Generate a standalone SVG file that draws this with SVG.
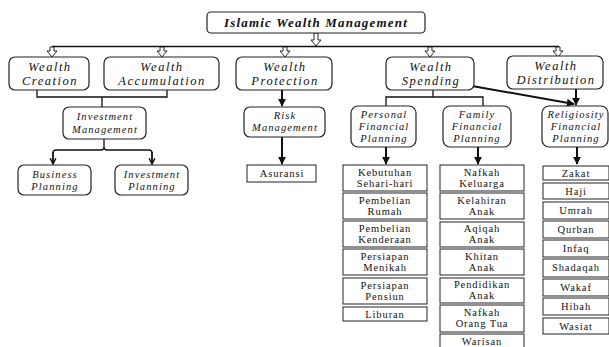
<svg xmlns="http://www.w3.org/2000/svg" width="609" height="347" viewBox="0 0 609 347">
<defs>
<style>
text{font-family:'Liberation Serif','Times New Roman',serif;fill:#111;text-anchor:middle}
.rb{fill:#fff;stroke:#222;stroke-width:1.2}
.lb{fill:#fff;stroke:#222;stroke-width:1}
.t1{font-style:italic;font-size:12.5px;letter-spacing:1.5px}
.t2{font-style:italic;font-size:10.5px;letter-spacing:1.1px}
.t3{font-size:10.5px;letter-spacing:0.9px}
.tt{font-style:italic;font-weight:bold;font-size:13px;letter-spacing:1.2px}
.ln{fill:none;stroke:#111;stroke-width:1.3}
.ar{fill:none;stroke:#111;stroke-width:2;marker-end:url(#ah)}
.cv{fill:none;stroke:#111;stroke-width:1.8;marker-end:url(#cv)}
.ha{fill:#fff;stroke:#111;stroke-width:0.9}
</style>
<marker id="ah" viewBox="0 0 10 10" refX="9" refY="5" markerWidth="4" markerHeight="4" orient="auto" markerUnits="strokeWidth">
<path d="M0,0 L10,5 L0,10 Z" fill="#111"/>
</marker>
<marker id="cv" viewBox="0 0 10 10" refX="9" refY="5" markerWidth="4" markerHeight="4" orient="auto" markerUnits="strokeWidth">
<path d="M1,1 L9,5 L1,9" fill="none" stroke="#111" stroke-width="2"/>
</marker>
</defs>
<rect width="609" height="347" fill="#fff"/>

<g id="connectors">
<path class="ha" d="M314,33 H318 V40 H321 L316,46 L311,40 H314 Z"/>
<line x1="52" y1="46.5" x2="559" y2="46.5" stroke="#111" stroke-width="1.6"/>
<path class="ha" d="M50,47 H54 V51 H57 L52,57 L47,51 H50 Z"/>
<path class="ha" d="M160,47 H164 V51 H167 L162,57 L157,51 H160 Z"/>
<path class="ha" d="M283,47 H287 V51 H290 L285,57 L280,51 H283 Z"/>
<path class="ha" d="M428,47 H432 V51 H435 L430,57 L425,51 H428 Z"/>
<path class="ha" d="M556,47 H560 V51 H563 L558,57 L553,51 H556 Z"/>
<path class="ln" d="M37,90 V97 H167 V90 M102,97 V107"/>
<path class="ln" d="M104,139 V147 Q104,150 101,150 H56 Q53,150 53,153 M104,147 Q104,150 107,150 H149 Q152,150 152,153" stroke-width="1.8"/>
<path class="cv" d="M53,152 V164"/>
<path class="cv" d="M152,152 V164"/>
<path class="ar" d="M282,90 V106"/>
<path class="ar" d="M282,137 V164"/>
<path class="ln" d="M433,90 V97 M386,106 V97 H483 V106"/>
<path class="ar" d="M472,86 L574,104" stroke-width="1.6"/>
<path class="ar" d="M576,89 V105"/>
<path class="ar" d="M386,147 V164"/>
<path class="ar" d="M478,147 V164"/>
<path class="ar" d="M577,147 V164"/>
</g>

<g id="n-top"><rect class="rb" x="207" y="12" width="218" height="21" rx="4"/><text class="tt" x="316" y="27">Islamic Wealth Management</text></g>

<g id="n-creation"><rect class="rb" x="9" y="57" width="80" height="33" rx="6"/><text class="t1" x="50" y="71">Wealth</text><text class="t1" x="50" y="85">Creation</text></g>
<g id="n-accumulation"><rect class="rb" x="104" y="57" width="115" height="33" rx="6"/><text class="t1" x="162" y="71">Wealth</text><text class="t1" x="162" y="85">Accumulation</text></g>
<g id="n-protection"><rect class="rb" x="236" y="57" width="96" height="33" rx="6"/><text class="t1" x="285" y="71">Wealth</text><text class="t1" x="285" y="85">Protection</text></g>
<g id="n-spending"><rect class="rb" x="386" y="57" width="88" height="33" rx="6"/><text class="t1" x="431" y="71">Wealth</text><text class="t1" x="431" y="85">Spending</text></g>
<g id="n-distribution"><rect class="rb" x="507" y="56" width="96" height="33" rx="6"/><text class="t1" x="556" y="70">Wealth</text><text class="t1" x="556" y="84">Distribution</text></g>

<g id="n-im"><rect class="rb" x="63" y="107" width="83" height="32" rx="6"/><text class="t2" x="105" y="120">Investment</text><text class="t2" x="105" y="133">Management</text></g>
<g id="n-bp"><rect class="rb" x="18" y="165" width="73" height="30" rx="6"/><text class="t2" x="55" y="178">Business</text><text class="t2" x="55" y="190">Planning</text></g>
<g id="n-ip"><rect class="rb" x="115" y="165" width="73" height="30" rx="6"/><text class="t2" x="152" y="178">Investment</text><text class="t2" x="152" y="190">Planning</text></g>

<g id="n-rm"><rect class="rb" x="244" y="107" width="81" height="30" rx="6"/><text class="t2" x="285" y="119">Risk</text><text class="t2" x="285" y="131">Management</text></g>
<g id="n-asuransi"><rect class="lb" x="247" y="165" width="69" height="17"/><text class="t3" x="282" y="177">Asuransi</text></g>

<g id="n-pfp"><rect class="rb" x="351" y="106" width="65" height="41" rx="7"/><text class="t2" x="384" y="118">Personal</text><text class="t2" x="384" y="130">Financial</text><text class="t2" x="384" y="142">Planning</text></g>
<g id="n-ffp"><rect class="rb" x="443" y="106" width="68" height="41" rx="7"/><text class="t2" x="477" y="118">Family</text><text class="t2" x="477" y="130">Financial</text><text class="t2" x="477" y="142">Planning</text></g>
<g id="n-rfp"><rect class="rb" x="542" y="106" width="66" height="41" rx="7"/><text class="t2" x="576" y="118">Religiosity</text><text class="t2" x="576" y="130">Financial</text><text class="t2" x="576" y="142">Planning</text></g>

<g id="n-p1"><rect class="lb" x="343" y="165" width="84" height="26"/><text class="t3" x="385" y="176">Kebutuhan</text><text class="t3" x="385" y="187">Sehari-hari</text></g>
<g id="n-p2"><rect class="lb" x="343" y="193" width="84" height="26"/><text class="t3" x="385" y="204">Pembelian</text><text class="t3" x="385" y="215">Rumah</text></g>
<g id="n-p3"><rect class="lb" x="343" y="221" width="84" height="26"/><text class="t3" x="385" y="232">Pembelian</text><text class="t3" x="385" y="243">Kenderaan</text></g>
<g id="n-p4"><rect class="lb" x="343" y="249" width="84" height="26"/><text class="t3" x="385" y="260">Persiapan</text><text class="t3" x="385" y="271">Menikah</text></g>
<g id="n-p5"><rect class="lb" x="343" y="278" width="84" height="26"/><text class="t3" x="385" y="289">Persiapan</text><text class="t3" x="385" y="300">Pensiun</text></g>
<g id="n-p6"><rect class="lb" x="343" y="307" width="84" height="14"/><text class="t3" x="385" y="318">Liburan</text></g>

<g id="n-f1"><rect class="lb" x="440" y="165" width="84" height="26"/><text class="t3" x="482" y="176">Nafkah</text><text class="t3" x="482" y="187">Keluarga</text></g>
<g id="n-f2"><rect class="lb" x="440" y="193" width="84" height="26"/><text class="t3" x="482" y="204">Kelahiran</text><text class="t3" x="482" y="215">Anak</text></g>
<g id="n-f3"><rect class="lb" x="440" y="222" width="84" height="25"/><text class="t3" x="482" y="232">Aqiqah</text><text class="t3" x="482" y="243">Anak</text></g>
<g id="n-f4"><rect class="lb" x="440" y="249" width="84" height="26"/><text class="t3" x="482" y="260">Khitan</text><text class="t3" x="482" y="271">Anak</text></g>
<g id="n-f5"><rect class="lb" x="440" y="278" width="84" height="25"/><text class="t3" x="482" y="288">Pendidikan</text><text class="t3" x="482" y="299">Anak</text></g>
<g id="n-f6"><rect class="lb" x="440" y="305" width="84" height="27"/><text class="t3" x="482" y="316">Nafkah</text><text class="t3" x="482" y="327">Orang Tua</text></g>
<g id="n-f7"><rect class="lb" x="440" y="334" width="84" height="20"/><text class="t3" x="482" y="345">Warisan</text></g>

<g id="n-r1"><rect class="lb" x="543" y="166" width="66" height="14"/><text class="t3" x="576" y="177">Zakat</text></g>
<g id="n-r2"><rect class="lb" x="543" y="183" width="66" height="16"/><text class="t3" x="576" y="195">Haji</text></g>
<g id="n-r3"><rect class="lb" x="543" y="202" width="66" height="17"/><text class="t3" x="576" y="214">Umrah</text></g>
<g id="n-r4"><rect class="lb" x="543" y="221" width="66" height="17"/><text class="t3" x="576" y="233">Qurban</text></g>
<g id="n-r5"><rect class="lb" x="543" y="240" width="66" height="17"/><text class="t3" x="576" y="252">Infaq</text></g>
<g id="n-r6"><rect class="lb" x="543" y="259" width="66" height="18"/><text class="t3" x="576" y="271">Shadaqah</text></g>
<g id="n-r7"><rect class="lb" x="543" y="279" width="66" height="17"/><text class="t3" x="576" y="291">Wakaf</text></g>
<g id="n-r8"><rect class="lb" x="543" y="298" width="66" height="17"/><text class="t3" x="576" y="310">Hibah</text></g>
<g id="n-r9"><rect class="lb" x="543" y="318" width="66" height="16"/><text class="t3" x="576" y="330">Wasiat</text></g>
</svg>
